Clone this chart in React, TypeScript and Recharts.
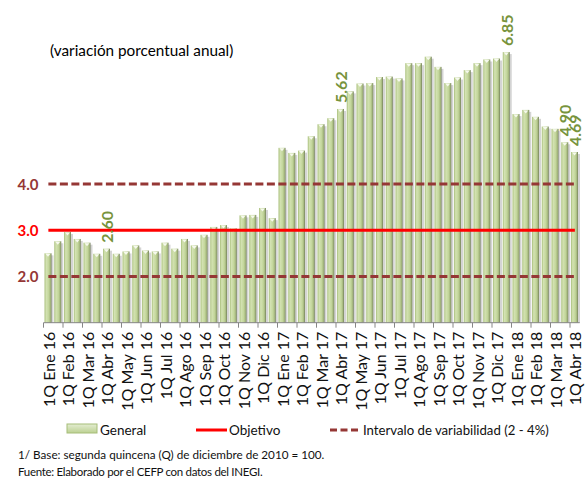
import React from 'react';
import { ComposedChart, Bar, Line, XAxis, YAxis, LabelList } from 'recharts';

const meses = ["Ene", "Feb", "Mar", "Abr", "May", "Jun", "Jul", "Ago", "Sep", "Oct", "Nov", "Dic"];
const anios = ["16", "17", "18"];
const quincenas = ["1Q", "2Q"];

const general2016 = [2.50, 2.76, 2.96, 2.81, 2.73, 2.49, 2.60, 2.49, 2.54, 2.67, 2.56, 2.54,
  2.73, 2.60, 2.81, 2.67, 2.90, 3.07, 3.11, 3.04, 3.32, 3.33, 3.48, 3.26];
const general2017 = [4.78, 4.67, 4.72, 5.03, 5.29, 5.42, 5.62, 6.00, 6.17, 6.18, 6.31, 6.32,
  6.28, 6.61, 6.61, 6.75, 6.53, 6.18, 6.30, 6.46, 6.61, 6.69, 6.71, 6.85];
const general2018 = [5.51, 5.60, 5.45, 5.24, 5.19, 4.90, 4.69];

const objetivo = 3;
const limiteInferior = 2;
const limiteSuperior = 4;
const yTicks = [2, 3, 4];
const etiquetadas = ["1Q Abr 16", "1Q Abr 17", "2Q Dic 17", "2Q Mar 18", "1Q Abr 18"];

const general = [...general2016, ...general2017, ...general2018];

const categorias: string[] = [];
for (const a of anios) {
  for (const m of meses) {
    for (const q of quincenas) {
      if (categorias.length < general.length) categorias.push(`${q} ${m} ${a}`);
    }
  }
}

const rows = categorias.map((cat, i) => ({
  cat,
  general: general[i],
  etiqueta: etiquetadas.includes(cat) ? general[i] : null,
  objetivo,
  inf: limiteInferior,
  sup: limiteSuperior,
}));

const FONT = 'Lato, "Noto Sans", sans-serif';
const HALF_BAND = 536.25 / 55 / 2;

const Cylinder = (props: any) => {
  const { x, y, width, height } = props;
  if (height == null || height <= 0) return null;
  return (
    <g>
      <rect x={x + 2} y={y + 2} width={width} height={height - 2} fill="#9f9f9f" opacity={0.45} />
      <rect x={x} y={y} width={width} height={height} fill="url(#barGrad)" />
      <path d={`M${x + 1},${y + 0.5} L${x + width - 1},${y + 0.5} L${x + width / 2},${y + 3.5} Z`} fill="#f6f9ee" />
    </g>
  );
};

const XTick = (props: any) => {
  const { x, y, payload } = props;
  return (
    <g>
      <line x1={x - HALF_BAND} x2={x - HALF_BAND} y1={y} y2={y + 5} stroke="#868686" strokeWidth={1} />
      <text
        x={x}
        y={y + 9}
        transform={`rotate(-90 ${x} ${y + 9})`}
        textAnchor="end"
        dominantBaseline="central"
        fontFamily={FONT}
        fontSize={16}
        fill="#111"
      >
        {payload.value}
      </text>
    </g>
  );
};

const YTick = (props: any) => {
  const { x, y, payload } = props;
  const v = payload.value;
  return (
    <text
      x={x}
      y={y}
      textAnchor="end"
      dominantBaseline="central"
      fontFamily={FONT}
      fontWeight="bold"
      fontSize={15}
      fill={v === objetivo ? '#ff0000' : '#953735'}
    >
      {Number(v).toFixed(1)}
    </text>
  );
};

const ValueLabel = (props: any) => {
  const { x, y, width, value } = props;
  if (value == null) return null;
  const cx = x + width / 2;
  const ty = y - 6;
  return (
    <text
      x={cx}
      y={ty}
      transform={`rotate(-90 ${cx} ${ty})`}
      textAnchor="start"
      dominantBaseline="central"
      fontFamily={FONT}
      fontWeight="bold"
      fontSize={16}
      fill="#77933c"
    >
      {Number(value).toFixed(2)}
    </text>
  );
};

export default function App() {
  return (
    <div style={{ position: 'absolute', left: 0, top: 0, width: 588, height: 478, background: '#fff' }}>
      <ComposedChart
        width={588}
        height={478}
        data={rows}
        margin={{ top: 22, right: 8.25, bottom: 65, left: 0.5 }}
        barCategoryGap={0}
      >
        <defs>
          <linearGradient id="barGrad" x1="0" y1="0" x2="1" y2="0">
            <stop offset="0%" stopColor="#a9bf7c" />
            <stop offset="25%" stopColor="#d3e2b2" />
            <stop offset="60%" stopColor="#c3d69b" />
            <stop offset="85%" stopColor="#a3b57c" />
            <stop offset="100%" stopColor="#6f7b58" />
          </linearGradient>
        </defs>
        <XAxis
          dataKey="cat"
          interval={1}
          height={90.3}
          tickLine={false}
          tickSize={0}
          tickMargin={0}
          axisLine={{ stroke: '#868686', strokeWidth: 1 }}
          tick={(p: any) => <XTick {...p} />}
        />
        <YAxis
          domain={[1, 7.5]}
          ticks={yTicks}
          width={43}
          axisLine={false}
          tickLine={false}
          tickSize={0}
          tickMargin={5}
          tick={(p: any) => <YTick {...p} />}
        />
        <Bar dataKey="general" barSize={7} shape={(p: any) => <Cylinder {...p} />} isAnimationActive={false}>
          <LabelList dataKey="etiqueta" content={(p: any) => <ValueLabel {...p} />} />
        </Bar>
        <Line dataKey="inf" stroke="#953735" strokeWidth={3} strokeDasharray="8 3.5" dot={false} activeDot={false} isAnimationActive={false} />
        <Line dataKey="sup" stroke="#953735" strokeWidth={3} strokeDasharray="8 3.5" dot={false} activeDot={false} isAnimationActive={false} />
        <Line dataKey="objetivo" stroke="#ff0000" strokeWidth={3} dot={false} activeDot={false} isAnimationActive={false} />
      </ComposedChart>
      <svg width={588} height={478} style={{ position: 'absolute', left: 0, top: 0, pointerEvents: 'none' }}>
        <defs>
          <linearGradient id="legGrad" x1="0" y1="0" x2="0" y2="1">
            <stop offset="0%" stopColor="#e4edd2" />
            <stop offset="100%" stopColor="#bcd192" />
          </linearGradient>
        </defs>
        <text x={50} y={56} fontFamily={FONT} fontSize={15.3} fill="#000">(variación porcentual anual)</text>
        <rect x={67} y={424} width={30} height={9} fill="url(#legGrad)" stroke="#a6bd78" strokeWidth={1} />
        <text x={100} y={435} fontFamily={FONT} fontSize={13.5} fill="#111">General</text>
        <line x1={196} x2={227} y1={430} y2={430} stroke="#ff0000" strokeWidth={3} />
        <text x={229} y={435} fontFamily={FONT} fontSize={13.5} fill="#111">Objetivo</text>
        <line x1={330} x2={358} y1={430} y2={430} stroke="#953735" strokeWidth={3} strokeDasharray="7 3.5" />
        <text x={363} y={435} fontFamily={FONT} fontSize={13.2} fill="#111">Intervalo de variabilidad (2 - 4%)</text>
        <text x={18} y={459} fontFamily={FONT} fontSize={11.7} fill="#111">1/ Base: segunda quincena (Q) de diciembre de 2010 = 100.</text>
        <text x={18} y={476} fontFamily={FONT} fontSize={11.5} letterSpacing={-0.3} fill="#111">Fuente: Elaborado por el CEFP con  datos del INEGI.</text>
      </svg>
    </div>
  );
}
